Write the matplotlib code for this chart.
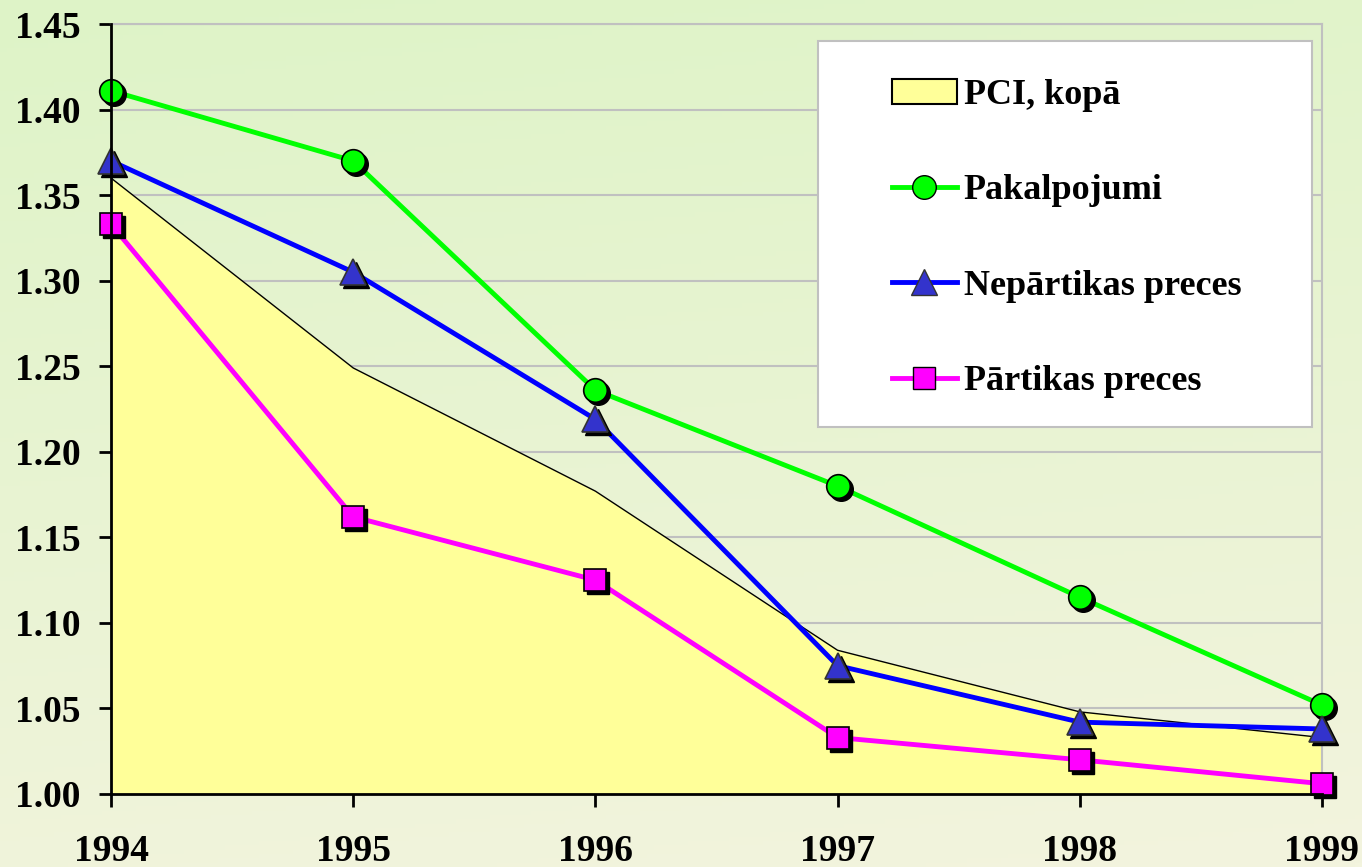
import numpy as np
import matplotlib
matplotlib.use('Agg')
import matplotlib.pyplot as plt
from matplotlib.lines import Line2D
from matplotlib.patches import Patch, Rectangle
from matplotlib.transforms import offset_copy

plt.rcParams['font.family'] = ['Liberation Serif', 'DejaVu Serif']
plt.rcParams['font.weight'] = 'bold'

years = [1994, 1995, 1996, 1997, 1998, 1999]
pci_kopa = [1.360, 1.249, 1.177, 1.084, 1.048, 1.033]
pakalpojumi = [1.411, 1.370, 1.236, 1.180, 1.115, 1.052]
nepartikas = [1.370, 1.305, 1.219, 1.075, 1.042, 1.038]
partikas = [1.333, 1.162, 1.125, 1.033, 1.020, 1.006]
yticks = [1.00, 1.05, 1.10, 1.15, 1.20, 1.25, 1.30, 1.35, 1.40, 1.45]

fig = plt.figure(figsize=(13.62, 8.67), dpi=100)

# fona gradients
bg = fig.add_axes([0, 0, 1, 1], zorder=-10)
gy = np.linspace(0, 1, 200)[:, None]
gx = np.linspace(0, 1, 200)[None, :]
t = np.clip(0.85 * gy + 0.15 * gx, 0, 1)
top = np.array([222, 243, 199]) / 255
bot = np.array([243, 244, 222]) / 255
img = top[None, None, :] * (1 - t[..., None]) + bot[None, None, :] * t[..., None]
bg.imshow(img, aspect='auto', extent=[0, 1, 0, 1])
bg.axis('off')

ax = fig.add_axes([0.0815, 0.0842, 0.8891, 0.8881])
ax.patch.set_alpha(0)

ax.fill_between(years, 1.0, pci_kopa, facecolor='#ffff99', edgecolor='none', zorder=2)
ax.plot(years, pci_kopa, color='black', lw=1, zorder=2.5)

series = [
    (pakalpojumi, '#00ff00', 'o', '#00ff00', 'black', 17),
    (nepartikas, '#0000ff', '^', '#3333cc', '#333333', 19),
    (partikas, '#ff00ff', 's', '#ff00ff', 'black', 16),
]
shadow = offset_copy(ax.transData, fig=fig, x=3, y=-3, units='dots')
for vals, lc, mk, fc, ec, ms in series:
    ax.plot(years, vals, color=lc, lw=3.5, zorder=3)
    ax.plot(years, vals, ls='none', marker=mk, ms=ms, mfc='black', mec='black',
            transform=shadow, zorder=4, clip_on=False)
    ax.plot(years, vals, ls='none', marker=mk, ms=ms, mfc=fc, mec=ec, mew=1.2,
            zorder=5, clip_on=False)

ax.set_xlim(1994, 1999)
ax.set_ylim(1.0, 1.45)
ax.set_yticks(yticks)
ax.set_yticklabels(['%.2f' % v for v in yticks])
ax.set_xticks(years)
ax.grid(axis='y', color='#c0c0c0', lw=1.5, zorder=1)
ax.set_axisbelow(True)

for s in ['left', 'bottom']:
    ax.spines[s].set_color('black')
    ax.spines[s].set_linewidth(2)
    ax.spines[s].set_zorder(6)
for s in ['top', 'right']:
    ax.spines[s].set_color('#c0c0c0')
    ax.spines[s].set_linewidth(1.5)

ax.tick_params(axis='y', length=9, width=2, pad=13, labelsize=27)
ax.tick_params(axis='x', length=9, width=2, pad=20, labelsize=27)

# leģendas rāmis
ax.add_patch(Rectangle((0.5838, 0.4766), 0.4079, 0.5013, transform=ax.transAxes,
                       facecolor='white', edgecolor='#c0c0c0', lw=1.5, zorder=9,
                       clip_on=False))

handles = [
    Patch(facecolor='#ffff99', edgecolor='black', lw=1.5),
    Line2D([], [], color='#00ff00', lw=3.5, marker='o', ms=17, mfc='#00ff00', mec='black'),
    Line2D([], [], color='#0000ff', lw=3.5, marker='^', ms=19, mfc='#3333cc', mec='#333333'),
    Line2D([], [], color='#ff00ff', lw=3.5, marker='s', ms=16, mfc='#ff00ff', mec='black'),
]
labels = ['PCI, kopā', 'Pakalpojumi', 'Nepārtikas preces', 'Pārtikas preces']
leg = ax.legend(handles, labels, loc='center', bbox_to_anchor=(0.789, 0.7214),
                fontsize=26, frameon=False, borderpad=0, labelspacing=1.72,
                handlelength=1.8, handletextpad=0.2, borderaxespad=0)
leg.set_zorder(10)

fig.savefig('out.png', dpi=100)
